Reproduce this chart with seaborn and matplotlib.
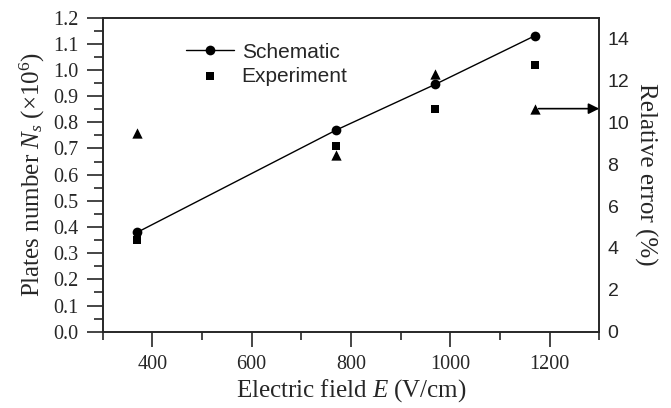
import matplotlib
matplotlib.use("Agg")
import matplotlib.pyplot as plt
import seaborn as sns
import pandas as pd

# данные
field = [370, 770, 970, 1170]
schematic = [0.38, 0.77, 0.945, 1.13]
experiment = [0.35, 0.71, 0.85, 1.02]
rel_error = [9.5, 8.45, 12.3, 10.65]

df = pd.DataFrame({"E": field, "Schematic": schematic,
                   "Experiment": experiment, "Error": rel_error})

sns.set_style("ticks")
plt.rcParams["font.family"] = ["Liberation Serif", "DejaVu Serif"]
plt.rcParams["mathtext.fontset"] = "custom"
plt.rcParams["mathtext.rm"] = "Liberation Serif"
plt.rcParams["mathtext.it"] = "Liberation Serif:italic"

fig = plt.figure(figsize=(6.71, 4.08), dpi=100)
ax = fig.add_axes([0.153, 0.187, 0.740, 0.770])

sns.lineplot(data=df, x="E", y="Schematic", ax=ax, color="black", lw=1,
             marker="o", markersize=7, markeredgewidth=0, label="Schematic")
sns.scatterplot(data=df, x="E", y="Experiment", ax=ax, color="black",
                marker="s", s=38, linewidth=0, label="Experiment")

ax2 = ax.twinx()
sns.scatterplot(data=df, x="E", y="Error", ax=ax2, color="black",
                marker="^", s=55, linewidth=0, legend=False)
ax2.annotate("", xy=(1300, rel_error[3]), xytext=(1178, rel_error[3]),
             arrowprops=dict(arrowstyle="-|>", color="black", lw=1.2,
                             mutation_scale=16, shrinkA=0, shrinkB=0),
             annotation_clip=False)

ax.set_xlim(300, 1300)
ax.set_ylim(0, 1.2)
ax2.set_ylim(0, 15)

ax.set_xticks([400, 600, 800, 1000, 1200])
ax.set_xticks([300, 500, 700, 900, 1100, 1300], minor=True)
ax.set_yticks([i / 10 for i in range(13)])
ax.set_yticklabels([f"{i / 10:.1f}" for i in range(13)])
ax.set_yticks([i / 20 for i in range(1, 24, 2)], minor=True)
ax2.set_yticks(range(0, 15, 2))

ax.tick_params(axis="x", which="major", length=11, width=1.2, labelsize=14.5, pad=6)
ax.tick_params(axis="x", which="minor", length=6, width=1.2)
ax.tick_params(axis="y", which="major", length=11.5, width=1.2, labelsize=14.5, pad=6)
ax.tick_params(axis="y", which="minor", length=6.5, width=1.2)
ax2.tick_params(axis="y", length=0, labelsize=14, pad=6)
for lab in ax2.get_yticklabels():
    lab.set_family(["Liberation Sans", "DejaVu Sans"])

for a in (ax, ax2):
    for s in ("left", "right", "bottom", "top"):
        a.spines[s].set_linewidth(1.2)

ax.set_xlabel("Electric field $E$ (V/cm)", fontsize=18, labelpad=2)
ax.set_ylabel("Plates number $N_s$ (×10$^6$)", fontsize=18, labelpad=4)
ax2.set_ylabel("Relative error (%)", fontsize=18, rotation=270, labelpad=20)

leg = ax.legend(loc="upper left", bbox_to_anchor=(0.131, 0.98), frameon=False,
                prop={"family": "Liberation Sans", "size": 15},
                handlelength=2.3, handletextpad=0.35, labelspacing=0.25)

plt.savefig("out.png", dpi=100)
